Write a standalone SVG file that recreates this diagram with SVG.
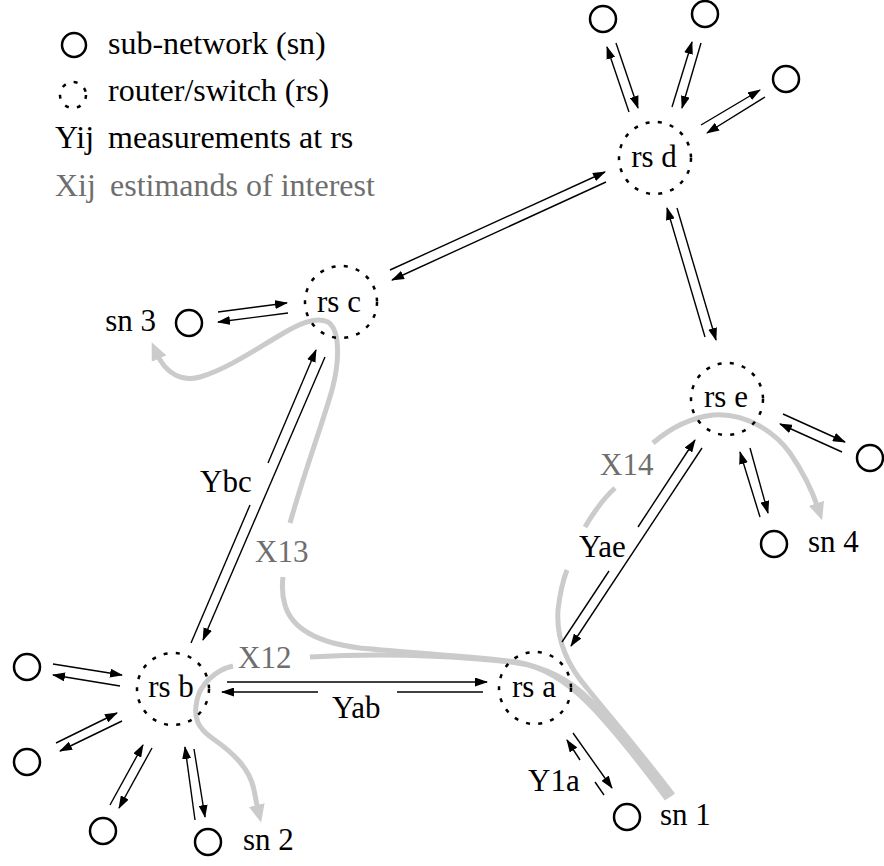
<svg xmlns="http://www.w3.org/2000/svg" width="884" height="866" viewBox="0 0 884 866">
<style>
text{font-family:"Liberation Serif","Times New Roman",serif;font-size:31px;fill:#000}
.g{fill:#6e6e6e}
.lg{font-size:32px}
.sn{fill:none;stroke:#000;stroke-width:2.5}
.rs{fill:none;stroke:#000;stroke-width:2.5;stroke-dasharray:4 8.3}
.ln line{stroke:#000;stroke-width:1.4}
.ln .a{marker-end:url(#ah)}
.gp{fill:none;stroke:#cbcbcb;stroke-width:5}
.gp .e{marker-end:url(#gh)}
</style>
<defs>
<marker id="ah" viewBox="0 0 13 9" refX="12" refY="4.5" markerWidth="13" markerHeight="9" markerUnits="userSpaceOnUse" orient="auto"><path d="M0,0 L13,4.5 L0,9 z" fill="#000"/></marker>
<marker id="gh" viewBox="0 0 18 16" refX="5" refY="8" markerWidth="18" markerHeight="16" markerUnits="userSpaceOnUse" orient="auto"><path d="M0,0 L18,8 L0,16 z" fill="#cbcbcb"/></marker>
</defs>
<rect width="884" height="866" fill="#fff"/>

<g id="legend">
<circle class="sn" cx="74" cy="45" r="12"/>
<text class="lg" x="108" y="54">sub-network (sn)</text>
<circle class="rs" cx="73" cy="95" r="13"/>
<text class="lg" x="108" y="101">router/switch (rs)</text>
<text class="lg" x="55" y="148">Yij</text>
<text class="lg" x="108" y="148">measurements at rs</text>
<text class="lg g" x="55" y="196">Xij</text>
<text class="lg g" x="110" y="196">estimands of interest</text>
</g>

<g id="estimands" class="gp">
<path d="M670,797 C640,757 610,720 590,700 C570,680 545,667 517,663 C480,658 400,652 310,657"/>
<path class="e" d="M233,666 C215,670 200,685 197,700 C193,718 198,728 212,738 C232,752 250,768 254,790 C256,800 257,806 258,810"/>
<path d="M667,799 C637,759 607,722 588,703 C568,683 545,667 517,662 C470,656 400,652 360,648 C320,643 292,630 285,605 C282,595 282,585 283,577"/>
<path class="e" d="M290,523 C305,470 322,425 332,390 C340,360 340,330 328,322 C315,316 298,324 277,337 C255,350 225,370 200,377 C182,382 166,374 157,354"/>
<path d="M673,795 C643,755 607,713 587,688 C567,665 556,640 558,610 C560,593 563,580 567,570"/>
<path d="M585,527 C595,510 605,497 615,488"/>
<path class="e" d="M653,443 C668,430 688,418 713,415 C745,412 775,432 790,453 C803,472 812,490 818,508"/>
</g>

<g id="connectors" class="ln">
<line class="a" x1="616" y1="43" x2="638" y2="108"/>
<line class="a" x1="629" y1="112" x2="607" y2="47"/>
<line class="a" x1="701" y1="43" x2="682" y2="108"/>
<line class="a" x1="672" y1="107" x2="692" y2="42"/>
<line class="a" x1="765" y1="97" x2="707" y2="133"/>
<line class="a" x1="701" y1="125" x2="760" y2="90"/>
<line class="a" x1="390" y1="270" x2="605" y2="172"/>
<line class="a" x1="606" y1="182" x2="392" y2="280"/>
<line class="a" x1="218" y1="312" x2="287" y2="303"/>
<line class="a" x1="288" y1="313" x2="218" y2="322"/>
<line x1="191" y1="643" x2="250" y2="505"/>
<line class="a" x1="268" y1="463" x2="316" y2="350"/>
<line class="a" x1="325" y1="357" x2="203" y2="640"/>
<line class="a" x1="705" y1="337" x2="667" y2="208"/>
<line class="a" x1="677" y1="208" x2="716" y2="340"/>
<line class="a" x1="783" y1="414" x2="845" y2="442"/>
<line class="a" x1="842" y1="452" x2="780" y2="424"/>
<line class="a" x1="760" y1="517" x2="740" y2="452"/>
<line class="a" x1="750" y1="448" x2="768" y2="513"/>
<line x1="562" y1="642" x2="609" y2="571"/>
<line class="a" x1="638" y1="527" x2="695" y2="440"/>
<line class="a" x1="702" y1="448" x2="571" y2="646"/>
<line x1="604" y1="795" x2="595" y2="782"/>
<line class="a" x1="580" y1="760" x2="567" y2="740"/>
<line class="a" x1="573" y1="733" x2="612" y2="788"/>
<line class="a" x1="227" y1="682" x2="487" y2="682"/>
<line x1="483" y1="692" x2="397" y2="692"/>
<line class="a" x1="318" y1="692" x2="222" y2="692"/>
<line class="a" x1="53" y1="664" x2="122" y2="675"/>
<line class="a" x1="120" y1="686" x2="53" y2="675"/>
<line class="a" x1="56" y1="743" x2="117" y2="713"/>
<line class="a" x1="122" y1="721" x2="60" y2="751"/>
<line class="a" x1="110" y1="805" x2="143" y2="745"/>
<line class="a" x1="152" y1="748" x2="119" y2="808"/>
<line class="a" x1="195" y1="820" x2="185" y2="747"/>
<line class="a" x1="194" y1="749" x2="205" y2="817"/>
</g>

<g id="labels">
<text x="200" y="492">Ybc</text>
<text class="g" x="255" y="562">X13</text>
<text class="g" x="600" y="475">X14</text>
<text x="579" y="557">Yae</text>
<text class="g" x="238" y="668">X12</text>
<text x="332" y="718">Yab</text>
<text x="528" y="791">Y1a</text>
</g>

<g id="rs-a"><circle class="rs" cx="535" cy="688" r="36"/><text x="534" y="697" text-anchor="middle">rs a</text></g>
<g id="rs-b"><circle class="rs" cx="173" cy="689" r="36"/><text x="171" y="697" text-anchor="middle">rs b</text></g>
<g id="rs-c"><circle class="rs" cx="341" cy="302" r="36"/><text x="339" y="312" text-anchor="middle">rs c</text></g>
<g id="rs-d"><circle class="rs" cx="655" cy="158" r="36"/><text x="654" y="167" text-anchor="middle">rs d</text></g>
<g id="rs-e"><circle class="rs" cx="727" cy="399" r="36"/><text x="726" y="407" text-anchor="middle">rs e</text></g>

<g id="sn-1"><circle class="sn" cx="627" cy="817" r="13"/><text x="660" y="825">sn 1</text></g>
<g id="sn-2"><circle class="sn" cx="208" cy="842" r="13"/><text x="243" y="850">sn 2</text></g>
<g id="sn-3"><circle class="sn" cx="189" cy="323" r="13"/><text x="156" y="331" text-anchor="end">sn 3</text></g>
<g id="sn-4"><circle class="sn" cx="774" cy="544" r="13"/><text x="808" y="552">sn 4</text></g>
<g id="sn-d1"><circle class="sn" cx="603" cy="19" r="13"/></g>
<g id="sn-d2"><circle class="sn" cx="705" cy="14" r="13"/></g>
<g id="sn-d3"><circle class="sn" cx="786" cy="79" r="13"/></g>
<g id="sn-e1"><circle class="sn" cx="870" cy="458" r="13"/></g>
<g id="sn-b1"><circle class="sn" cx="27" cy="667" r="13"/></g>
<g id="sn-b2"><circle class="sn" cx="27" cy="762" r="13"/></g>
<g id="sn-b3"><circle class="sn" cx="103" cy="831" r="13"/></g>
</svg>
